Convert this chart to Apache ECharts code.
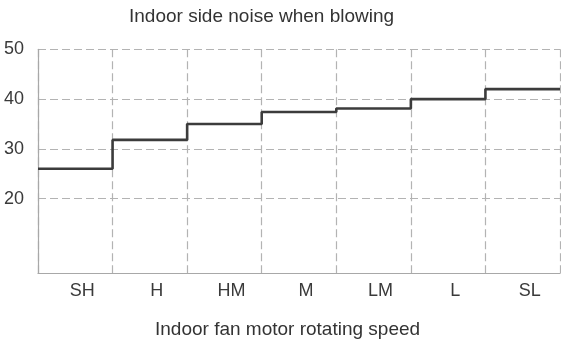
<!DOCTYPE html>
<html>
<head>
<meta charset="utf-8">
<script src="https://cdn.jsdelivr.net/npm/echarts@6/dist/echarts.min.js"></script>
<style>
html,body{margin:0;padding:0;background:#fff;}
#chart{width:561px;height:345px;}
</style>
</head>
<body>
<div id="chart"></div>
<script>
const titleText = 'Indoor side noise when blowing';
const xAxisTitle = 'Indoor fan motor rotating speed';
const categories = ['SH', 'H', 'HM', 'M', 'LM', 'L', 'SL'];
const noiseValues = [26, 31.8, 35, 37.4, 38.1, 40, 42];
const yTicks = [20, 30, 40, 50];
const yMin = 5;
const yMax = 50;

// step line: each level spans its whole category band
const stepData = noiseValues.map((v, i) => [i, v]);
stepData.push([categories.length, noiseValues[noiseValues.length - 1]]);

const FONT = 'Liberation Sans, Arial, sans-serif';
const gridGray = '#b3b3b3';

const chart = echarts.init(document.getElementById('chart'), null, {renderer: 'canvas'});
chart.setOption({
  animation: false,
  backgroundColor: '#ffffff',
  title: [
    {
      text: titleText, left: 129, top: 7, padding: 0,
      textStyle: {fontFamily: FONT, fontSize: 19, fontWeight: 'normal', color: '#333'}
    },
    {
      text: xAxisTitle, left: 155, top: 320, padding: 0,
      textStyle: {fontFamily: FONT, fontSize: 19, fontWeight: 'normal', color: '#333'}
    }
  ],
  grid: {left: 38, right: 1, top: 49.3, bottom: 71.7, containLabel: false},
  xAxis: [
    {
      type: 'category',
      data: categories,
      boundaryGap: true,
      axisLine: {show: true, lineStyle: {color: '#a8a8a8', width: 1.2}},
      axisTick: {show: false},
      axisLabel: {
        fontFamily: FONT, fontSize: 18, color: '#3a3a3a', margin: 9,
        padding: [0, 0, 0, 14], interval: 0
      },
      splitLine: {show: true, lineStyle: {color: gridGray, type: [8, 4], width: 1.2}}
    },
    {
      type: 'value', min: 0, max: categories.length, show: false
    }
  ],
  yAxis: {
    type: 'value',
    min: yMin,
    max: yMax,
    axisLine: {show: true, lineStyle: {color: '#a8a8a8', width: 1.2}},
    axisTick: {show: false, customValues: yTicks},
    axisLabel: {
      customValues: yTicks,
      fontFamily: FONT, fontSize: 18, color: '#3a3a3a', margin: 14
    },
    splitLine: {show: true, lineStyle: {color: gridGray, type: [8, 4], width: 1.2}}
  },
  series: [{
    type: 'line',
    xAxisIndex: 1,
    data: stepData,
    step: 'end',
    symbol: 'none',
    lineStyle: {color: '#3c3c3c', width: 2.6},
    z: 5
  }]
});
</script>
</body>
</html>
